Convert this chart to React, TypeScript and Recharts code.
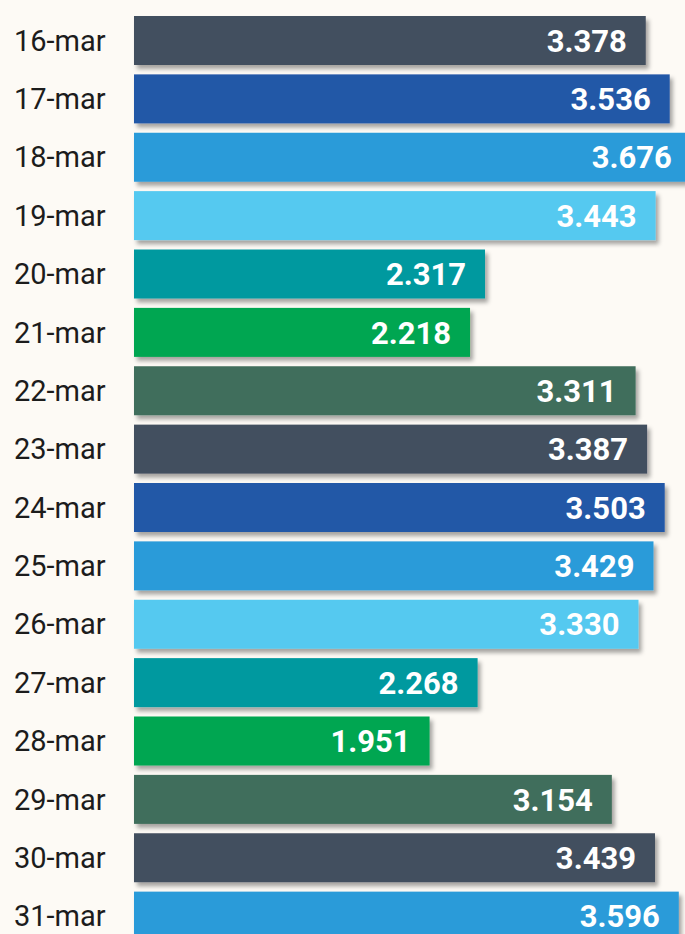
import { Bar, BarChart, Cell, LabelList, XAxis, YAxis } from 'recharts';

const days = [
  '16-mar', '17-mar', '18-mar', '19-mar', '20-mar', '21-mar', '22-mar', '23-mar',
  '24-mar', '25-mar', '26-mar', '27-mar', '28-mar', '29-mar', '30-mar', '31-mar'
];
const counts = [3378, 3536, 3676, 3443, 2317, 2218, 3311, 3387, 3503, 3429, 3330, 2268, 1951, 3154, 3439, 3596];
const barColors = [
  '#434f5f', '#2358a7', '#2b9bd9', '#55c9f0', '#00999f', '#00a651', '#406e5c', '#434f5f',
  '#2358a7', '#2b9bd9', '#55c9f0', '#00999f', '#00a651', '#406e5c', '#434f5f', '#2b9bd9'
];

const data = days.map((day, i) => ({ day, count: counts[i] }));

const fmt = (v: number) => v.toLocaleString('it-IT', { useGrouping: 'always' } as any).replace(/\s/g, '.');

function DayTick(props: any) {
  const { y, payload } = props;
  return (
    <text x={14} y={y} dy="0.36em" textAnchor="start" fill="#1c1c1c" fontSize={29} fontFamily="Roboto">
      {payload.value}
    </text>
  );
}

function ValueLabel(props: any) {
  const { x, y, width, height, value } = props;
  return (
    <text
      x={x + width - 19}
      y={y + height / 2}
      dy="0.36em"
      textAnchor="end"
      fill="#ffffff"
      fontSize={31}
      fontWeight={700}
      fontFamily="Roboto"
    >
      {fmt(value)}
    </text>
  );
}

function ShadowBar(props: any) {
  const { x, y, width, height, fill } = props;
  return <rect x={x} y={y} width={width} height={height} fill={fill} filter="url(#barShadow)" />;
}

export default function App() {
  return (
    <div
      style={{
        position: 'fixed',
        top: 0,
        left: 0,
        width: 685,
        height: 934,
        overflow: 'hidden',
        background: '#fdfaf5'
      }}
    >
      <BarChart
        width={740}
        height={945}
        data={data}
        layout="vertical"
        margin={{ top: 11, right: 0, left: 0, bottom: 0 }}
      >
        <defs>
          <filter id="barShadow" x="-5%" y="-20%" width="115%" height="150%">
            <feDropShadow dx="3" dy="4" stdDeviation="2" floodColor="#000" floodOpacity="0.35" />
          </filter>
        </defs>
        <XAxis type="number" hide domain={[0, 4000]} />
        <YAxis
          type="category"
          dataKey="day"
          width={134}
          axisLine={false}
          tickLine={false}
          tick={<DayTick />}
          interval={0}
        />
        <Bar dataKey="count" barSize={49} shape={<ShadowBar />} isAnimationActive={false}>
          {data.map((d, i) => (
            <Cell key={d.day} fill={barColors[i]} />
          ))}
          <LabelList dataKey="count" content={<ValueLabel />} />
        </Bar>
      </BarChart>
    </div>
  );
}
